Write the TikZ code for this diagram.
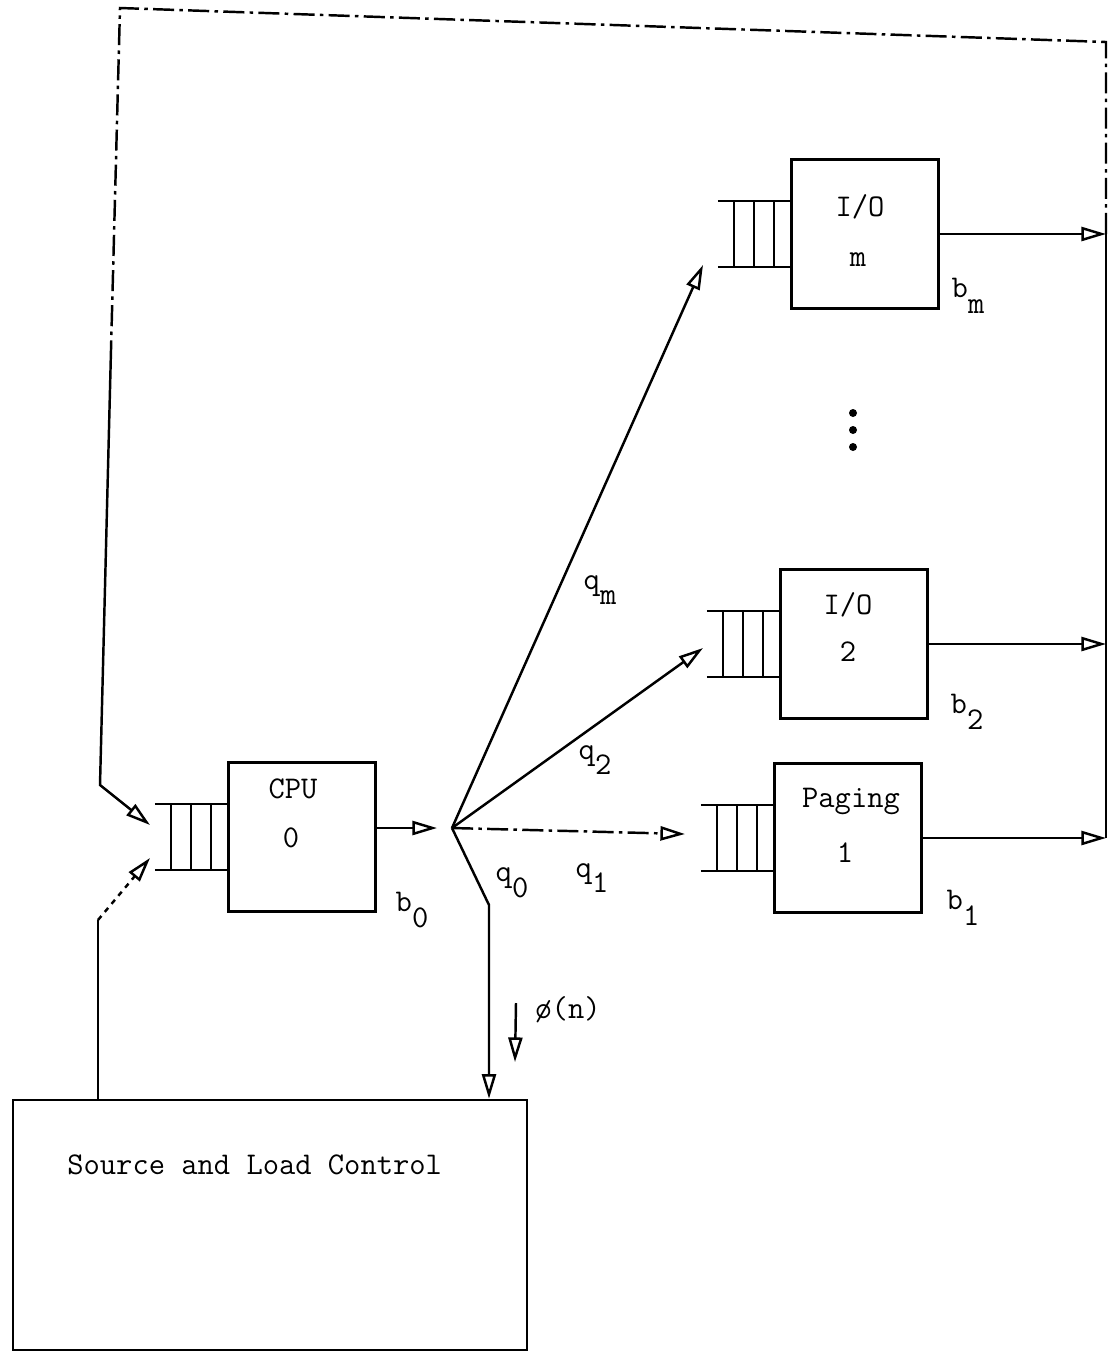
\documentclass[tikz,border=0pt]{standalone}
\usepackage{fontspec}
\usetikzlibrary{arrows.meta, calc}
\newcommand{\lowered}[1]{\raisebox{-0.5em}{#1}}

\begin{document}
\begin{tikzpicture}[x=0.02cm, y=-0.02cm,
          box/.style={rectangle, draw, line width=1.5pt,
                      minimum width=2.95cm, minimum height=2.97cm},
          lbl/.style={font=\ttfamily\fontsize{18}{21}\selectfont,
                      inner sep=0pt},
          flow/.style={-{Triangle[open, length=14pt, width=8pt]},
                       line width=1.4pt},
          wire/.style={line width=1.4pt},
          loopline/.style={line width=1.4pt,
                           dash pattern=on 12pt off 3pt on 2pt off 3pt}
        ]
        \useasboundingbox (0,0) rectangle (1116,1357);

        % Service centres
        \node[box] (cpu)    at (302,837) {};
        \node[box] (iom)    at (865,234) {};
        \node[box] (iotwo)  at (854,644) {};
        \node[box] (paging) at (848,838) {};
        \node[box, minimum width=10.28cm, minimum height=5.0cm]
              (src) at (270,1225) {};

        % Queues in front of each centre
        \foreach \b in {cpu, iom, iotwo, paging} {
          \draw[wire] ($(\b.west)+(-72,-33)$) -- ($(\b.west)+(0,-33)$);
          \draw[wire] ($(\b.west)+(-72,33)$)  -- ($(\b.west)+(0,33)$);
          \foreach \dx in {-56,-36,-16}
            \draw[wire] ($(\b.west)+(\dx,-33)$) -- ($(\b.west)+(\dx,33)$);
        }

        % Texts
        \node[lbl] (cpu-name)    at (293,789) {CPU};
        \node[lbl] (cpu-no)      at (291,838) {0};
        \node[lbl] (iom-name)    at (860,207) {I/O};
        \node[lbl] (iom-no)      at (858,260) {m};
        \node[lbl] (iotwo-name)  at (848,605) {I/O};
        \node[lbl] (iotwo-no)    at (848,652) {2};
        \node[lbl] (paging-name) at (851,801) {Paging};
        \node[lbl] (paging-no)   at (845,853) {1};
        \node[lbl, anchor=west] (src-name) at (67,1165)
              {Source and Load Control};

        \node[lbl] (b0) at (412,910) {b\lowered{0}};
        \node[lbl] (b1) at (963,908) {b\lowered{1}};
        \node[lbl] (b2) at (967,712) {b\lowered{2}};
        \node[lbl] (bm) at (968,296) {b\lowered{m}};
        \node[lbl] (qm) at (600,590) {q\lowered{m}};
        \node[lbl] (q2) at (595,760) {q\lowered{2}};
        \node[lbl] (q1) at (592,878) {q\lowered{1}};
        \node[lbl] (q0) at (512,883) {q\lowered{0}};
        \node[lbl] (phi) at (568,1010) {ø(n)};

        % more I/O centres
        \foreach \y in {413,430,447}
          \fill (853,\y) circle (4);

        % Routing out of the CPU
        \coordinate (fork)      at (452,828);
        \coordinate (iom-in)    at (703,265);
        \coordinate (iotwo-in)  at (703,648);
        \coordinate (paging-in) at (685,834);
        \coordinate (q0-bend)   at (489,905);

        \draw[flow] (cpu.east |- fork) -- ($(fork)+(-15,0)$);
        \draw[flow] (fork) -- (iom-in);
        \draw[flow] (fork) -- (iotwo-in);
        \draw[flow, loopline] (fork) -- (paging-in);
        \draw[flow] (fork) -- (q0-bend) -- (q0-bend |- src.north);

        \coordinate (phi-top) at (516,1003);
        \coordinate (phi-end) at (515,1062);
        \draw[flow] (phi-top) -- (phi-end);

        % Return bus and feedback loop
        \coordinate (bus-top)     at (1106,42);
        \coordinate (loop-corner) at (120,8);
        \coordinate (loop-mid)    at (111,350);
        \coordinate (loop-bend)   at (100,785);
        \coordinate (cpu-in1)     at (150,825);
        \coordinate (cpu-in2)     at (150,858);
        \coordinate (src-up)      at (98,920);

        \draw[flow] (iom.east)    -- (iom.east -| bus-top);
        \draw[flow] (iotwo.east)  -- (iotwo.east -| bus-top);
        \draw[flow] (paging.east) -- (paging.east -| bus-top);
        \draw[wire] (paging.east -| bus-top) -- (iom.east -| bus-top);
        \draw[loopline] (iom.east -| bus-top) -- (bus-top)
              -- (loop-corner) -- (loop-mid);
        \draw[flow] (loop-mid) -- (loop-bend) -- (cpu-in1);

        \draw[wire] (src.north -| src-up) -- (src-up);
        \draw[flow, dashed] (src-up) -- (cpu-in2);
      \end{tikzpicture}
\end{document}
